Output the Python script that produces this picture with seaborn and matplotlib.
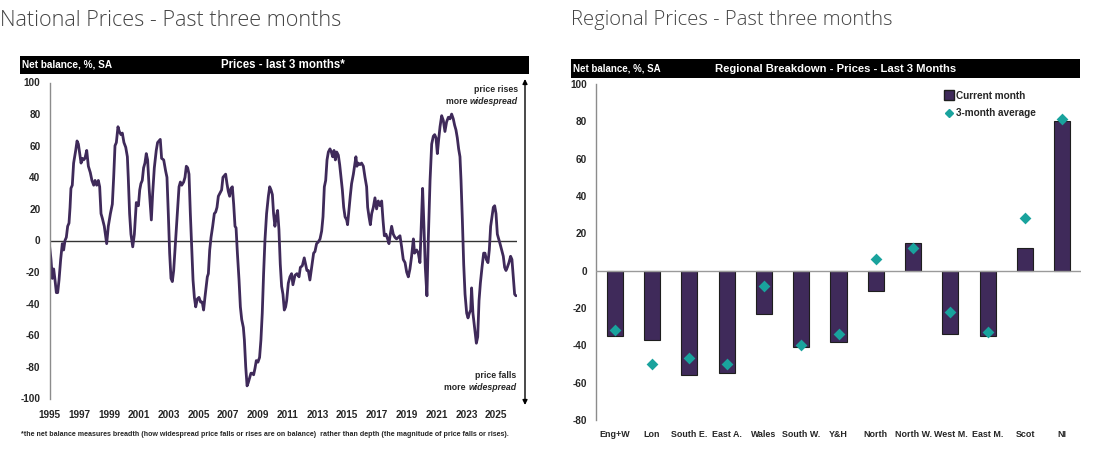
import matplotlib
matplotlib.use("Agg")
import pandas as pd
import matplotlib.pyplot as plt
from matplotlib.patches import Rectangle
from matplotlib.lines import Line2D
import seaborn as sns

# national price balance (decimal year, net balance %)
years = [
    1995.00, 1995.10, 1995.19, 1995.28, 1995.37, 1995.46, 1995.55, 1995.64, 1995.75, 1995.86,
    1995.95, 1996.04, 1996.13, 1996.22, 1996.31, 1996.38, 1996.44, 1996.53, 1996.62, 1996.76,
    1996.85, 1996.94, 1997.03, 1997.12, 1997.21, 1997.29, 1997.38, 1997.50, 1997.61, 1997.74,
    1997.85, 1997.97, 1998.06, 1998.17, 1998.28, 1998.37, 1998.46, 1998.55, 1998.68, 1998.84,
    1998.95, 1999.09, 1999.22, 1999.31, 1999.40, 1999.49, 1999.60, 1999.69, 1999.80, 1999.89,
    2000.00, 2000.12, 2000.23, 2000.29, 2000.38, 2000.47, 2000.59, 2000.70, 2000.83, 2000.97,
    2001.06, 2001.14, 2001.23, 2001.32, 2001.41, 2001.50, 2001.59, 2001.70, 2001.84, 2001.93,
    2002.04, 2002.17, 2002.26, 2002.35, 2002.44, 2002.53, 2002.67, 2002.80, 2002.89, 2002.98,
    2003.07, 2003.16, 2003.25, 2003.34, 2003.47, 2003.61, 2003.70, 2003.79, 2003.88, 2004.01,
    2004.10, 2004.19, 2004.28, 2004.37, 2004.46, 2004.55, 2004.64, 2004.73, 2004.82, 2004.93,
    2005.04, 2005.15, 2005.26, 2005.35, 2005.44, 2005.53, 2005.60, 2005.67, 2005.76, 2005.85,
    2005.96, 2006.07, 2006.16, 2006.25, 2006.34, 2006.45, 2006.56, 2006.65, 2006.74, 2006.83,
    2006.92, 2007.01, 2007.10, 2007.19, 2007.28, 2007.37, 2007.46, 2007.53, 2007.62, 2007.73,
    2007.82, 2007.91, 2008.02, 2008.09, 2008.18, 2008.27, 2008.35, 2008.44, 2008.53, 2008.62,
    2008.71, 2008.80, 2008.89, 2009.00, 2009.11, 2009.20, 2009.29, 2009.38, 2009.47, 2009.58,
    2009.70, 2009.79, 2009.88, 2009.97, 2010.05, 2010.14, 2010.23, 2010.32, 2010.41, 2010.50,
    2010.59, 2010.68, 2010.77, 2010.86, 2010.93, 2011.04, 2011.15, 2011.26, 2011.35, 2011.49,
    2011.62, 2011.76, 2011.85, 2011.98, 2012.11, 2012.20, 2012.29, 2012.38, 2012.49, 2012.61,
    2012.74, 2012.83, 2012.94, 2013.05, 2013.17, 2013.28, 2013.37, 2013.46, 2013.55, 2013.64,
    2013.73, 2013.84, 2013.93, 2014.02, 2014.11, 2014.20, 2014.29, 2014.40, 2014.49, 2014.58,
    2014.67, 2014.76, 2014.85, 2014.96, 2015.02, 2015.11, 2015.20, 2015.29, 2015.41, 2015.52,
    2015.58, 2015.65, 2015.74, 2015.85, 2015.96, 2016.08, 2016.19, 2016.30, 2016.37, 2016.46,
    2016.55, 2016.64, 2016.75, 2016.86, 2016.97, 2017.08, 2017.20, 2017.31, 2017.40, 2017.49,
    2017.60, 2017.71, 2017.80, 2017.89, 2017.98, 2018.09, 2018.20, 2018.31, 2018.43, 2018.54,
    2018.65, 2018.76, 2018.88, 2018.99, 2019.10, 2019.21, 2019.32, 2019.44, 2019.52, 2019.66,
    2019.77, 2019.88, 2019.97, 2020.06, 2020.15, 2020.24, 2020.35, 2020.44, 2020.56, 2020.67,
    2020.78, 2020.87, 2020.96, 2021.05, 2021.14, 2021.23, 2021.34, 2021.45, 2021.56, 2021.67,
    2021.79, 2021.90, 2022.01, 2022.12, 2022.21, 2022.30, 2022.39, 2022.48, 2022.57, 2022.64,
    2022.73, 2022.82, 2022.91, 2023.02, 2023.11, 2023.20, 2023.29, 2023.35, 2023.44, 2023.55,
    2023.67, 2023.76, 2023.85, 2023.94, 2024.05, 2024.16, 2024.25, 2024.34, 2024.45, 2024.54,
    2024.63, 2024.72, 2024.81, 2024.90, 2024.99, 2025.08, 2025.17, 2025.26, 2025.37, 2025.48,
    2025.57, 2025.66, 2025.75, 2025.86, 2025.97, 2026.06, 2026.15, 2026.24, 2026.33,
]
balance = [
    -3, -12, -24, -18, -25, -33, -33, -25, -12, -2,
    -6, 0, 2, 9, 11, 21, 33, 35, 49, 57,
    63, 61, 55, 49, 52, 51, 52, 57, 47, 43,
    38, 35, 38, 35, 38, 34, 17, 14, 9, -2,
    9, 17, 23, 40, 60, 62, 72, 69, 67, 68,
    62, 59, 53, 40, 17, 4, -4, 4, 24, 22,
    32, 36, 38, 46, 49, 55, 51, 32, 13, 30,
    46, 57, 62, 63, 64, 52, 51, 44, 40, 17,
    -8, -24, -26, -19, 0, 21, 34, 37, 35, 37,
    40, 47, 46, 42, 17, -4, -25, -36, -42, -37,
    -36, -39, -39, -44, -36, -29, -23, -21, -6, 2,
    9, 17, 18, 21, 28, 30, 32, 40, 41, 42,
    36, 31, 28, 33, 34, 23, 9, 8, -8, -25,
    -42, -50, -55, -63, -80, -92, -90, -87, -84, -84,
    -85, -81, -76, -77, -74, -63, -46, -21, 0, 17,
    28, 34, 32, 29, 17, 9, 15, 19, 7, -15,
    -29, -34, -44, -42, -38, -27, -23, -21, -28, -22,
    -21, -23, -17, -16, -11, -15, -19, -19, -25, -17,
    -8, -7, -2, -1, 1, 6, 15, 34, 38, 51,
    56, 58, 56, 53, 57, 51, 56, 54, 48, 40,
    32, 21, 15, 13, 10, 19, 28, 36, 42, 49,
    53, 47, 49, 48, 49, 47, 40, 34, 21, 15,
    10, 17, 21, 27, 20, 25, 22, 25, 13, 3,
    4, 1, -2, 4, 9, 4, 2, 1, 2, 3,
    -4, -12, -14, -20, -23, -18, -10, 1, -8, -6,
    -8, -14, 9, 33, 9, -17, -35, 0, 38, 61,
    66, 67, 65, 55, 64, 72, 79, 76, 69, 75,
    78, 77, 80, 77, 73, 70, 65, 58, 53, 38,
    13, -15, -34, -46, -49, -46, -44, -30, -46, -55,
    -65, -61, -38, -27, -17, -8, -8, -12, -14, -6,
    9, 15, 21, 22, 17, 4, 1, -2, -6, -10,
    -17, -19, -17, -14, -10, -12, -23, -34, -35,
]
year_ticks = list(range(1995, 2026, 2))

regions = ["Eng+W", "Lon", "South E.", "East A.", "Wales", "South W.", "Y&H",
           "North", "North W.", "West M.", "East M.", "Scot", "NI"]
current_month = [-35, -37, -56, -55, -23, -41, -38, -11, 15, -34, -35, 12, 80]
three_month_avg = [-32, -50, -47, -50, -8, -40, -34, 6, 12, -22, -33, 28, 81]

sns.set_theme(style="white")
plt.rcParams["font.family"] = ["Liberation Sans", "DejaVu Sans"]
plt.rcParams["font.weight"] = "bold"
plt.rcParams["axes.unicode_minus"] = False

W, H = 1093, 450
fig = plt.figure(figsize=(W / 100, H / 100), dpi=100)


def px_axes(x0, x1, ytop, ybot):
    return fig.add_axes([x0 / W, 1 - ybot / H, (x1 - x0) / W, (ybot - ytop) / H])


def title_bar(x0, x1, ytop, ybot, left_text, centre_text, centre_x, lsize, csize):
    fig.add_artist(Rectangle((x0 / W, 1 - ybot / H), (x1 - x0) / W, (ybot - ytop) / H,
                             transform=fig.transFigure, color="black", lw=0))
    ymid = 1 - (ytop + ybot) / 2 / H
    fig.text((x0 + 2) / W, ymid, left_text, color="white", size=lsize, va="center")
    fig.text(centre_x / W, ymid, centre_text, color="white", size=csize, va="center", ha="center")


purple = "#3f2a5a"
teal = "#19a39d"
tick_size = 7.2

# headers
fig.text(0, 1 - 20 / H, "National Prices - Past three months", family=["Open Sans", "DejaVu Sans"],
         weight="light", size=15.6, color="#444444", va="center")
fig.text(571 / W, 1 - 20 / H, "Regional Prices - Past three months", family=["Open Sans", "DejaVu Sans"],
         weight="light", size=14.6, color="#444444", va="center")

# ---- national chart
ax1 = px_axes(49.5, 517, 82.5, 398.5)
nat = pd.DataFrame({"year": years, "balance": balance})
sns.lineplot(data=nat, x="year", y="balance", ax=ax1, color=purple, lw=2)
ax1.axhline(0, color="#333333", lw=1, zorder=1)
ax1.set_xlim(1995, 2026.4)
ax1.set_ylim(-100, 100)
ax1.set_xticks(year_ticks)
ax1.set_yticks(range(-100, 101, 20))
ax1.set_xlabel("")
ax1.set_ylabel("")
ax1.tick_params(axis="y", length=0, pad=6.5, labelsize=tick_size)
ax1.tick_params(axis="x", length=0, pad=8, labelsize=tick_size)
for s in ["top", "right", "bottom"]:
    ax1.spines[s].set_visible(False)
ax1.spines["left"].set_color("#8c8c8c")
ax1.spines["left"].set_linewidth(1)

title_bar(20, 529, 56, 74, "Net balance, %, SA", "Prices - last 3 months*", 283, 7.2, 8.3)

# double arrow on the right
ax1.annotate("", xy=(525, H - 79), xytext=(525, H - 405), xycoords="figure pixels",
             arrowprops=dict(arrowstyle="<|-|>", color="black", lw=1, mutation_scale=7,
                             shrinkA=0, shrinkB=0), annotation_clip=False)

note_size = 6.3
fig.text(518 / W, 1 - 89 / H, "price rises", ha="right", va="center", size=note_size)
t_up = fig.text(518 / W, 1 - 101 / H, "widespread", style="italic", ha="right", va="center",
                size=note_size)
ax1.annotate("more ", xy=(0, 0), xycoords=t_up, ha="right", va="bottom", size=note_size,
             annotation_clip=False)
fig.text(516 / W, 1 - 376 / H, "price falls", ha="right", va="center", size=note_size)
t_dn = fig.text(516.5 / W, 1 - 388 / H, "widespread", style="italic", ha="right", va="center",
                size=note_size)
ax1.annotate("more ", xy=(0, 0), xycoords=t_dn, ha="right", va="bottom", size=note_size,
             annotation_clip=False)

fig.text(21 / W, 1 - 434 / H,
         "*the net balance measures breadth (how widespread price falls or rises are on balance)  "
         "rather than depth (the magnitude of price falls or rises).",
         size=5.1, va="center")

# ---- regional chart
ax2 = px_axes(596, 1081, 84, 420)
reg = pd.DataFrame({"region": regions, "current": current_month, "avg": three_month_avg})
sns.barplot(data=reg, x="region", y="current", ax=ax2, color=purple, width=0.43,
            edgecolor="#1e1e1e", linewidth=0.8, saturation=1, zorder=2)
sns.stripplot(data=reg, x="region", y="avg", ax=ax2, color=teal, marker="D", size=6,
              jitter=False, linewidth=0, zorder=4)
ax2.axhline(0, color="#9a9a9a", lw=1, zorder=3)
ax2.set_xlim(-0.5, 12.5)
ax2.set_ylim(-80, 100)
ax2.set_yticks(range(-80, 101, 20))
ax2.set_xlabel("")
ax2.set_ylabel("")
ax2.tick_params(axis="y", length=0, pad=6.5, labelsize=tick_size)
ax2.tick_params(axis="x", length=0, pad=7, labelsize=6.4)
for s in ["top", "right", "bottom"]:
    ax2.spines[s].set_visible(False)
ax2.spines["left"].set_color("#8c8c8c")
ax2.spines["left"].set_linewidth(1)

handles = [
    Line2D([], [], ls="", marker="s", color=purple, markeredgecolor="#1e1e1e", markersize=6.5),
    Line2D([], [], ls="", marker="D", color=teal, markersize=4),
]
ax2.legend(handles, ["Current month", "3-month average"], loc="upper left",
           bbox_to_anchor=(0.71, 0.995), frameon=False, borderpad=0, handlelength=0.8,
           handletextpad=0.25, labelspacing=0.75, prop=dict(size=7.2, weight="bold"))

title_bar(571, 1080, 59, 78, "Net balance, %, SA", "Regional Breakdown - Prices - Last 3 Months",
          836, 7.0, 8.1)

fig.savefig("out.png", dpi=100)
